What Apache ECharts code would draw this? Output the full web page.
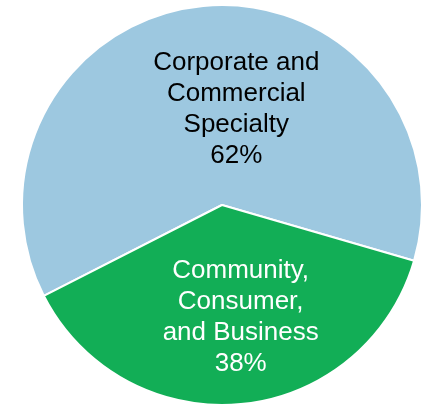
<!DOCTYPE html>
<html>
<head>
<meta charset="utf-8">
<script src="https://cdn.jsdelivr.net/npm/echarts@6/dist/echarts.min.js"></script>
<style>
  html, body { margin: 0; padding: 0; background: #ffffff; }
  #chart { width: 427px; height: 406px; }
</style>
</head>
<body>
<div id="chart"></div>
<script>
// Segment names and their share of the total (%)
const segments = ['Corporate and\nCommercial\nSpecialty', 'Community,\nConsumer,\nand Business'];
const shares = [62, 38];
const colors = ['#9dc8e0', '#12ae56'];
const labelColors = ['#000000', '#ffffff'];

// Nudges that move each inside label off the default mid-radius spot
const labelShift = [[24, 7], [9, 10]];

const chart = echarts.init(document.getElementById('chart'), null, { renderer: 'canvas' });

chart.setOption({
  animation: false,
  backgroundColor: '#ffffff',
  series: [{
    type: 'pie',
    center: [222, 205],
    radius: [0, 200],
    startAngle: 207,
    clockwise: true,
    avoidLabelOverlap: false,
    itemStyle: { borderColor: '#ffffff', borderWidth: 2 },
    label: {
      show: true,
      position: 'inside',
      fontFamily: '"Liberation Sans", Arial, sans-serif',
      fontSize: 26,
      lineHeight: 31,
      align: 'center',
      formatter: p => p.name + '\n' + p.value + '%'
    },
    labelLine: { show: false },
    labelLayout: p => ({ dx: labelShift[p.dataIndex][0], dy: labelShift[p.dataIndex][1] }),
    emphasis: { disabled: true },
    data: segments.map((name, i) => ({
      name: name,
      value: shares[i],
      itemStyle: { color: colors[i] },
      label: { color: labelColors[i] }
    }))
  }]
});
</script>
</body>
</html>
